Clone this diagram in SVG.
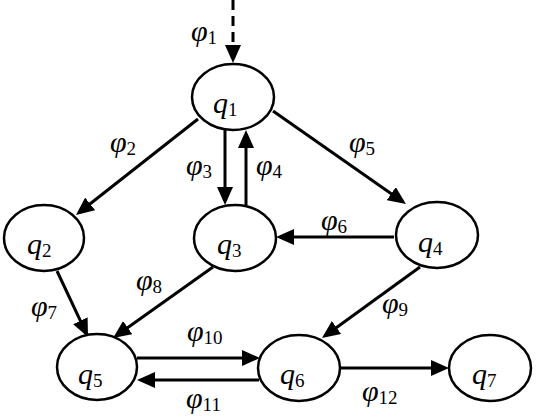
<svg xmlns="http://www.w3.org/2000/svg" width="536" height="420" viewBox="0 0 536 420">
<style>
.n{fill:#fff;stroke:#000;stroke-width:2.5}
.e{fill:none;stroke:#000;stroke-width:3;marker-end:url(#ah)}
.q{font-family:"Liberation Serif","Times New Roman",serif;font-style:italic;font-size:30px;fill:#000}
.p{font-family:"Liberation Serif","Times New Roman",serif;font-style:italic;font-size:30px;fill:#000}
.s{font-style:normal;font-size:19px;baseline-shift:-3px}
</style>
<defs>
<marker id="ah" markerUnits="userSpaceOnUse" viewBox="0 0 18 16" refX="14" refY="8" markerWidth="18" markerHeight="16" orient="auto">
<path d="M0,0 L18,8 L0,16 z" fill="#000"/>
</marker>
</defs>
<g id="edges">
<line class="e" x1="233" y1="0" x2="233" y2="59" stroke-dasharray="10 6"/>
<line class="e" x1="198" y1="119" x2="79.1" y2="212.5"/>
<line class="e" x1="225" y1="130" x2="225" y2="201"/>
<line class="e" x1="246" y1="205" x2="246" y2="134"/>
<line class="e" x1="273" y1="111" x2="402.7" y2="201.7"/>
<line class="e" x1="394" y1="237" x2="280" y2="237"/>
<line class="e" x1="57" y1="271" x2="86.3" y2="333.4"/>
<line class="e" x1="213" y1="267" x2="116.3" y2="335.7"/>
<line class="e" x1="420" y1="267" x2="325.2" y2="335.7"/>
<line class="e" x1="137" y1="358" x2="256" y2="358"/>
<line class="e" x1="259" y1="380" x2="141" y2="380"/>
<line class="e" x1="341" y1="368" x2="445" y2="368"/>
</g>
<g id="edge-labels">
<text class="p" x="191" y="41">φ<tspan class="s">1</tspan></text>
<text class="p" x="110" y="152">φ<tspan class="s">2</tspan></text>
<text class="p" x="186" y="175">φ<tspan class="s">3</tspan></text>
<text class="p" x="256" y="175">φ<tspan class="s">4</tspan></text>
<text class="p" x="349" y="152">φ<tspan class="s">5</tspan></text>
<text class="p" x="321" y="230">φ<tspan class="s">6</tspan></text>
<text class="p" x="31" y="316">φ<tspan class="s">7</tspan></text>
<text class="p" x="136" y="290">φ<tspan class="s">8</tspan></text>
<text class="p" x="382" y="313">φ<tspan class="s">9</tspan></text>
<text class="p" x="187" y="341">φ<tspan class="s">10</tspan></text>
<text class="p" x="186" y="408">φ<tspan class="s">11</tspan></text>
<text class="p" x="362" y="401">φ<tspan class="s">12</tspan></text>
</g>
<g id="q1"><ellipse class="n" cx="233" cy="97" rx="41" ry="33"/><text class="q" x="213" y="113">q<tspan class="s">1</tspan></text></g>
<g id="q2"><ellipse class="n" cx="44" cy="238" rx="40" ry="33"/><text class="q" x="27" y="254">q<tspan class="s">2</tspan></text></g>
<g id="q3"><ellipse class="n" cx="235" cy="238" rx="41" ry="33"/><text class="q" x="217" y="254">q<tspan class="s">3</tspan></text></g>
<g id="q4"><ellipse class="n" cx="437" cy="235" rx="41" ry="33"/><text class="q" x="418" y="252">q<tspan class="s">4</tspan></text></g>
<g id="q5"><ellipse class="n" cx="97" cy="367" rx="40" ry="33"/><text class="q" x="78" y="384">q<tspan class="s">5</tspan></text></g>
<g id="q6"><ellipse class="n" cx="299" cy="368" rx="41" ry="33"/><text class="q" x="280" y="384">q<tspan class="s">6</tspan></text></g>
<g id="q7"><ellipse class="n" cx="490" cy="368" rx="41" ry="33"/><text class="q" x="472" y="384">q<tspan class="s">7</tspan></text></g>
</svg>
